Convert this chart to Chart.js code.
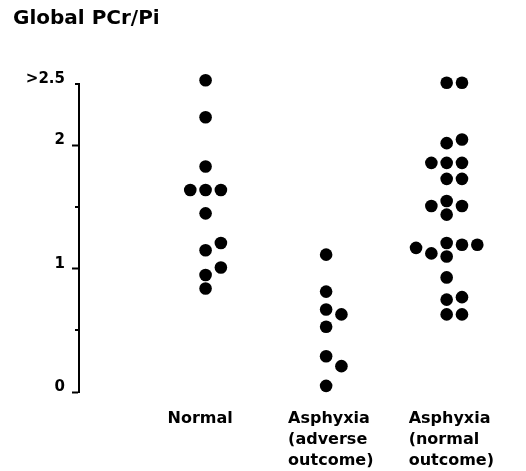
<!DOCTYPE html>
<html>
<head>
<meta charset="utf-8">
<script src="https://cdn.jsdelivr.net/npm/chart.js@4/dist/chart.umd.min.js"></script>
<style>
  html, body { margin: 0; padding: 0; background: #fff; }
  canvas { display: block; }
</style>
</head>
<body>
<canvas id="pcr-chart" width="526" height="471"></canvas>
<script>
// Global PCr/Pi by group, one dot per infant. "Slots" are the sideways
// nudges of the dot plot (0 = on the group line, +/-1 = one dot width over).
const groupLabels = [
  ["Normal"],
  ["Asphyxia", "(adverse", "outcome)"],
  ["Asphyxia", "(normal", "outcome)"],
];

const normalValues = [2.53, 2.23, 1.83, 1.64, 1.64, 1.64, 1.45, 1.21, 1.15, 1.01, 0.95, 0.84];
const normalSlots = [0, 0, 0, -1, 0, 1, 0, 1, 0, 1, 0, 0];

const adverseValues = [1.115, 0.815, 0.67, 0.63, 0.53, 0.29, 0.21, 0.05];
const adverseSlots = [0, 0, 0, 1, 0, 0, 1, 0];

const goodOutcomeValues = [2.51, 2.51, 2.05, 2.02, 1.86, 1.86, 1.86, 1.73, 1.73, 1.55, 1.51, 1.51,
  1.44, 1.21, 1.195, 1.195, 1.17, 1.125, 1.10, 0.93, 0.77, 0.75, 0.63, 0.63];
const goodOutcomeSlots = [0, 1, 1, 0, -1, 0, 1, 0, 1, 0, -1, 1,
  0, 0, 1, 2, -2, -1, 0, 0, 1, 0, 0, 1];

const yTickLabels = { 0: "0", 1: "1", 2: "2", 2.5: ">2.5" };

const SLOT_WIDTH = 0.127; // one dot width, in group units

function toPoints(groupIndex, values, slots) {
  return values.map((v, i) => ({ x: groupIndex + 1 + slots[i] * SLOT_WIDTH, y: v }));
}

const dotStyle = { backgroundColor: "#000", borderWidth: 0, pointRadius: 6.3, pointHoverRadius: 6.3, clip: false };

// short ticks at the half-way marks (0.5, 1.5, 2.5)
const minorTicks = {
  id: "minorTicks",
  afterDraw(chart) {
    const y = chart.scales.y;
    const ctx = chart.ctx;
    ctx.save();
    ctx.strokeStyle = "#000";
    ctx.lineWidth = 2;
    [0.5, 1.5, 2.5].forEach((v) => {
      const py = Math.round(y.getPixelForValue(v));
      ctx.beginPath();
      ctx.moveTo(y.right - 4, py);
      ctx.lineTo(y.right, py);
      ctx.stroke();
    });
    ctx.restore();
  },
};

const labelFont = { family: "DejaVu Sans", size: 16, weight: "bold", lineHeight: 1.32 };

new Chart(document.getElementById("pcr-chart"), {
  type: "scatter",
  data: {
    datasets: [
      { label: "Normal", data: toPoints(0, normalValues, normalSlots), ...dotStyle },
      { label: "Asphyxia (adverse outcome)", data: toPoints(1, adverseValues, adverseSlots), ...dotStyle },
      { label: "Asphyxia (normal outcome)", data: toPoints(2, goodOutcomeValues, goodOutcomeSlots), ...dotStyle },
    ],
  },
  options: {
    responsive: false,
    animation: false,
    layout: { padding: { left: 13, right: 7, top: 0, bottom: 0 } },
    plugins: {
      legend: { display: false },
      tooltip: { enabled: false },
      title: {
        display: true,
        text: "Global PCr/Pi",
        align: "start",
        color: "#000",
        font: { family: "DejaVu Sans", size: 20, weight: "bold", lineHeight: 1.2 },
        padding: { top: 7, bottom: 53 },
      },
    },
    scales: {
      x: {
        type: "linear",
        min: -0.05,
        max: 3.6,
        border: { display: false },
        grid: { display: false },
        afterBuildTicks: (scale) => { scale.ticks = [{ value: 1 }, { value: 2 }, { value: 3 }]; },
        afterFit: (scale) => {
          scale.height = 79;
          scale.paddingLeft = 0;
          scale.paddingRight = 0;
        },
        ticks: {
          autoSkip: false,
          maxRotation: 0,
          align: "start",
          labelOffset: -38,
          padding: 8,
          color: "#000",
          font: labelFont,
          callback: (value) => groupLabels[value - 1],
        },
      },
      y: {
        min: 0,
        max: 2.5,
        border: { display: true, color: "#000", width: 2 },
        grid: {
          drawOnChartArea: false,
          drawTicks: true,
          tickLength: 7,
          tickWidth: 2,
          tickColor: (ctx) => (Number.isInteger(ctx.tick.value) ? "#000" : "rgba(0,0,0,0)"),
        },
        afterFit: (scale) => { scale.width = 66; },
        ticks: {
          stepSize: 0.5,
          padding: 7,
          labelOffset: -5,
          color: "#000",
          font: { family: "DejaVu Sans", size: 15, weight: "bold" },
          callback: (value) => yTickLabels[value] ?? "",
        },
      },
    },
  },
  plugins: [minorTicks],
});
</script>
</body>
</html>
